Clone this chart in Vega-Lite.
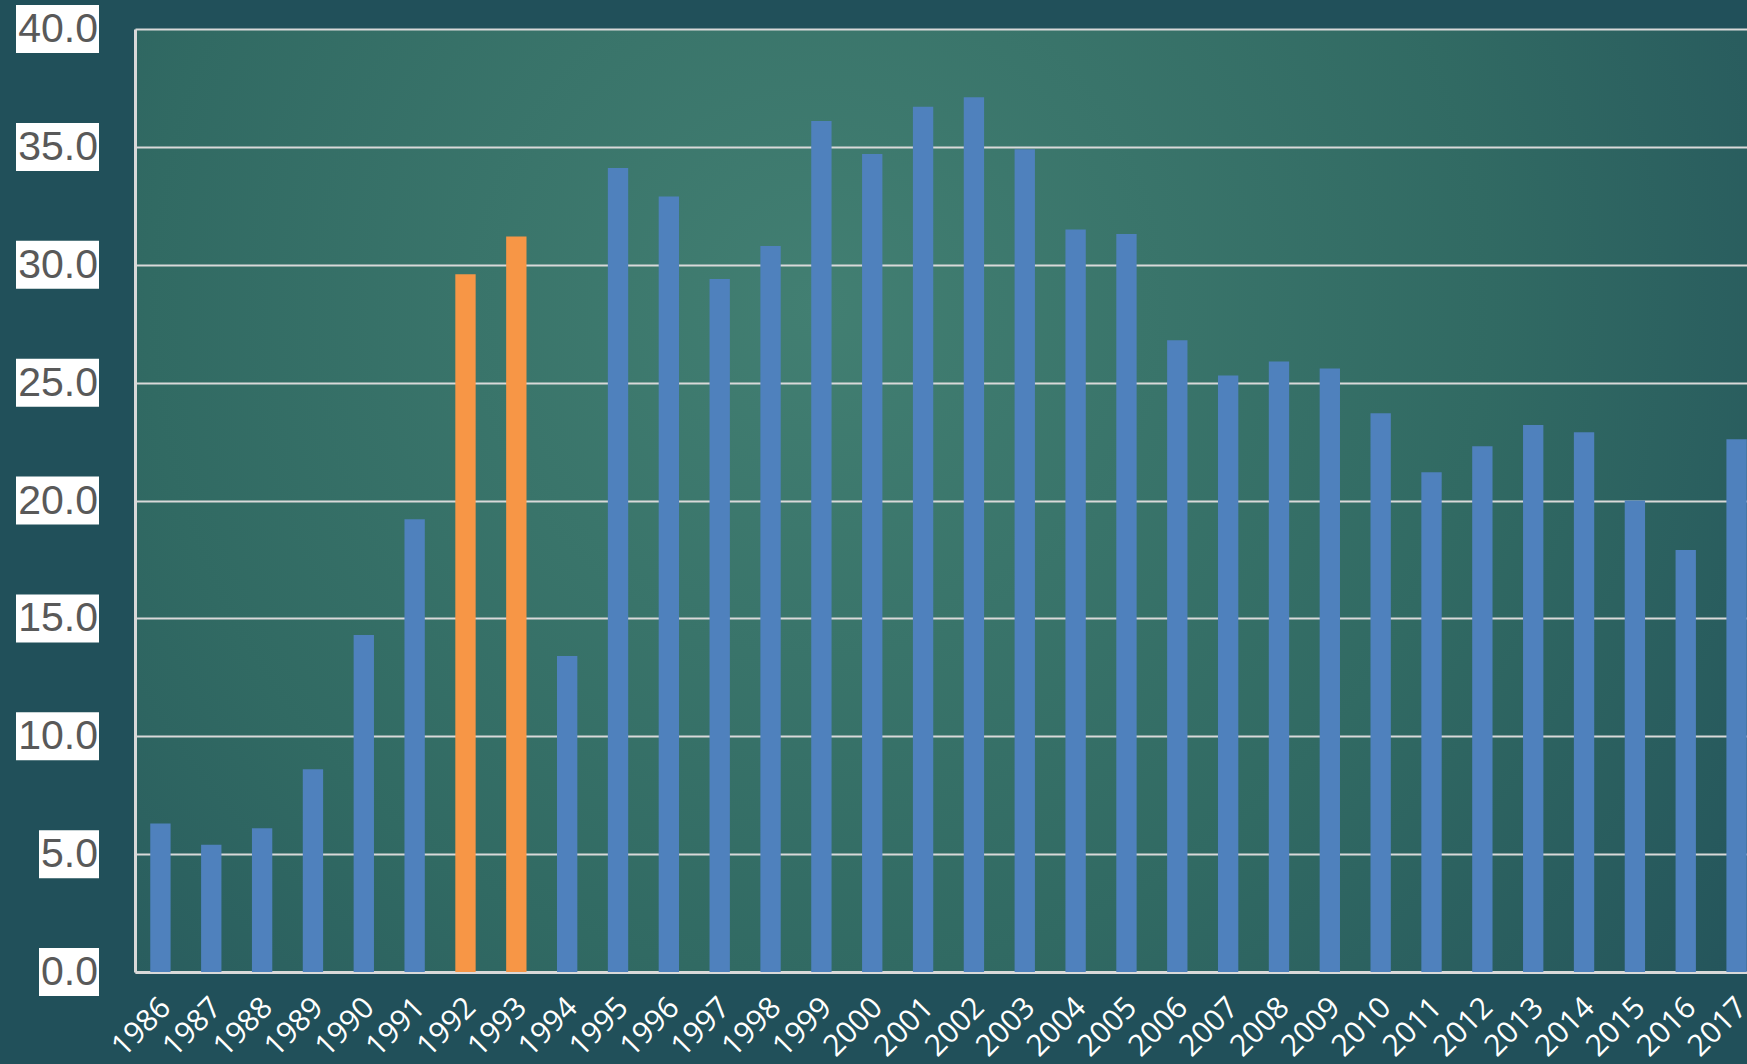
{
  "$schema": "https://vega.github.io/schema/vega-lite/v6.json",
  "autosize": {"type": "none"},
  "padding": {"left": 135, "top": 29, "right": 0, "bottom": 92},
  "width": 1627,
  "height": 943,
  "background": "#21505a",
  "config": {
    "view": {
      "stroke": null,
      "fill": {
        "gradient": "radial",
        "x1": 0.42, "y1": 0.38, "r1": 0,
        "x2": 0.42, "y2": 0.38, "r2": 0.75,
        "stops": [
          {"offset": 0, "color": "#427f72"},
          {"offset": 0.55, "color": "#316a63"},
          {"offset": 1, "color": "#22515a"}
        ]
      }
    }
  },
  "datasets": {
    "bars": [
      {"year": "1986", "value": 6.3, "group": "normal"},
      {"year": "1987", "value": 5.4, "group": "normal"},
      {"year": "1988", "value": 6.1, "group": "normal"},
      {"year": "1989", "value": 8.6, "group": "normal"},
      {"year": "1990", "value": 14.3, "group": "normal"},
      {"year": "1991", "value": 19.2, "group": "normal"},
      {"year": "1992", "value": 29.6, "group": "highlight"},
      {"year": "1993", "value": 31.2, "group": "highlight"},
      {"year": "1994", "value": 13.4, "group": "normal"},
      {"year": "1995", "value": 34.1, "group": "normal"},
      {"year": "1996", "value": 32.9, "group": "normal"},
      {"year": "1997", "value": 29.4, "group": "normal"},
      {"year": "1998", "value": 30.8, "group": "normal"},
      {"year": "1999", "value": 36.1, "group": "normal"},
      {"year": "2000", "value": 34.7, "group": "normal"},
      {"year": "2001", "value": 36.7, "group": "normal"},
      {"year": "2002", "value": 37.1, "group": "normal"},
      {"year": "2003", "value": 34.9, "group": "normal"},
      {"year": "2004", "value": 31.5, "group": "normal"},
      {"year": "2005", "value": 31.3, "group": "normal"},
      {"year": "2006", "value": 26.8, "group": "normal"},
      {"year": "2007", "value": 25.3, "group": "normal"},
      {"year": "2008", "value": 25.9, "group": "normal"},
      {"year": "2009", "value": 25.6, "group": "normal"},
      {"year": "2010", "value": 23.7, "group": "normal"},
      {"year": "2011", "value": 21.2, "group": "normal"},
      {"year": "2012", "value": 22.3, "group": "normal"},
      {"year": "2013", "value": 23.2, "group": "normal"},
      {"year": "2014", "value": 22.9, "group": "normal"},
      {"year": "2015", "value": 20.0, "group": "normal"},
      {"year": "2016", "value": 17.9, "group": "normal"},
      {"year": "2017", "value": 22.6, "group": "normal"}
    ],
    "ticks": [
      {"v": 0}, {"v": 5}, {"v": 10}, {"v": 15}, {"v": 20},
      {"v": 25}, {"v": 30}, {"v": 35}, {"v": 40}
    ]
  },
  "layer": [
    {
      "data": {"name": "bars"},
      "mark": {"type": "bar", "strokeWidth": 0},
      "encoding": {
        "x": {
          "field": "year", "type": "nominal", "sort": null,
          "scale": {"paddingInner": 0.6, "paddingOuter": 0.3},
          "axis": {
            "title": null,
            "labelAngle": -45,
            "labelColor": "#ffffff",
            "labelFont": "Open Sans",
            "labelFontSize": 30,
            "labelPadding": 20,
            "labelOffset": -5,
            "ticks": false,
            "domain": true,
            "domainColor": "#d9d9d9",
            "domainWidth": 3
          }
        },
        "y": {
          "field": "value", "type": "quantitative",
          "scale": {"domain": [0, 40], "nice": false},
          "axis": {
            "title": null,
            "values": [0, 5, 10, 15, 20, 25, 30, 35, 40],
            "labels": false,
            "ticks": false,
            "grid": true,
            "gridColor": "#d9d9d9",
            "gridWidth": 2,
            "domain": true,
            "domainColor": "#d9d9d9",
            "domainWidth": 3
          }
        },
        "color": {
          "field": "group", "type": "nominal",
          "scale": {"domain": ["normal", "highlight"], "range": ["#4f81bd", "#f79646"]},
          "legend": null
        }
      }
    },
    {
      "data": {"name": "ticks"},
      "transform": [{"filter": "datum.v >= 10"}],
      "mark": {"type": "rect", "color": "#ffffff", "yOffset": -24, "y2Offset": 24},
      "encoding": {
        "y": {"field": "v", "type": "quantitative"},
        "y2": {"field": "v"},
        "x": {"value": -119},
        "x2": {"value": -36}
      }
    },
    {
      "data": {"name": "ticks"},
      "transform": [{"filter": "datum.v < 10"}],
      "mark": {"type": "rect", "color": "#ffffff", "yOffset": -24, "y2Offset": 24},
      "encoding": {
        "y": {"field": "v", "type": "quantitative"},
        "y2": {"field": "v"},
        "x": {"value": -96},
        "x2": {"value": -36}
      }
    },
    {
      "data": {"name": "ticks"},
      "mark": {"type": "text", "align": "right", "baseline": "middle", "font": "Liberation Sans", "fontSize": 41, "color": "#595959", "dy": 1},
      "encoding": {
        "y": {"field": "v", "type": "quantitative"},
        "x": {"value": -37},
        "text": {"field": "v", "type": "quantitative", "format": ".1f"}
      }
    }
  ]
}
